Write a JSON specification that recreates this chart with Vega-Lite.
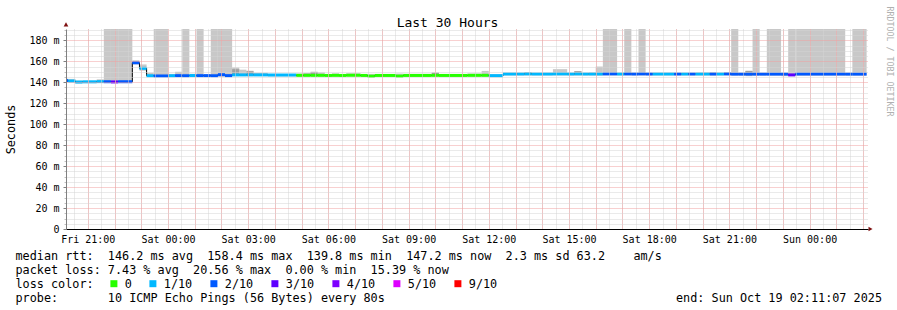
{
  "$schema": "https://vega.github.io/schema/vega-lite/v6.json",
  "background": "white",
  "autosize": {"type": "fit", "contains": "padding"},
  "padding": {"left": 5, "top": 5, "right": 4, "bottom": 6},
  "config": {"font": "DejaVu Sans Mono", "view": {"stroke": null}},
  "width": 897,
  "height": 310,
  "data": {"values": [
    {"t0":"2025-10-17T20:00:00Z","t1":"2025-10-17T20:16:00Z","med":141.6,"loss":"2/10","lo":140.3,"hi":143.4},
    {"t0":"2025-10-17T20:16:00Z","t1":"2025-10-17T20:32:00Z","med":141.2,"loss":"1/10","lo":140.3,"hi":143.2},
    {"t0":"2025-10-17T20:32:00Z","t1":"2025-10-17T20:48:00Z","med":140.2,"loss":"1/10","lo":139.0,"hi":141.5},
    {"t0":"2025-10-17T20:48:00Z","t1":"2025-10-17T21:20:00Z","med":140.4,"loss":"1/10","lo":139.3,"hi":141.3},
    {"t0":"2025-10-17T21:20:00Z","t1":"2025-10-17T21:36:00Z","med":140.6,"loss":"1/10","lo":139.8,"hi":142.8},
    {"t0":"2025-10-17T21:36:00Z","t1":"2025-10-17T21:52:00Z","med":140.5,"loss":"2/10","lo":139.8,"hi":200},
    {"t0":"2025-10-17T21:52:00Z","t1":"2025-10-17T22:08:00Z","med":140.3,"loss":"3/10","lo":139.5,"hi":200},
    {"t0":"2025-10-17T22:08:00Z","t1":"2025-10-17T22:40:00Z","med":140.5,"loss":"2/10","lo":139.8,"hi":200},
    {"t0":"2025-10-17T22:40:00Z","t1":"2025-10-17T22:56:00Z","med":158.6,"loss":"2/10","lo":157.0,"hi":161.0},
    {"t0":"2025-10-17T22:56:00Z","t1":"2025-10-17T23:12:00Z","med":153.3,"loss":"1/10","lo":151.0,"hi":157.0},
    {"t0":"2025-10-17T23:12:00Z","t1":"2025-10-17T23:28:00Z","med":146.2,"loss":"1/10","lo":145.0,"hi":149.0},
    {"t0":"2025-10-17T23:28:00Z","t1":"2025-10-18T00:00:00Z","med":146.0,"loss":"2/10","lo":145.0,"hi":200},
    {"t0":"2025-10-18T00:00:00Z","t1":"2025-10-18T00:16:00Z","med":146.2,"loss":"1/10","lo":145.3,"hi":148.0},
    {"t0":"2025-10-18T00:16:00Z","t1":"2025-10-18T00:32:00Z","med":146.3,"loss":"2/10","lo":145.5,"hi":150.0},
    {"t0":"2025-10-18T00:32:00Z","t1":"2025-10-18T00:48:00Z","med":146.2,"loss":"2/10","lo":145.3,"hi":200},
    {"t0":"2025-10-18T00:48:00Z","t1":"2025-10-18T01:04:00Z","med":146.4,"loss":"1/10","lo":145.5,"hi":148.0},
    {"t0":"2025-10-18T01:04:00Z","t1":"2025-10-18T01:20:00Z","med":146.3,"loss":"2/10","lo":145.5,"hi":200},
    {"t0":"2025-10-18T01:20:00Z","t1":"2025-10-18T01:36:00Z","med":146.3,"loss":"2/10","lo":145.5,"hi":147.8},
    {"t0":"2025-10-18T01:36:00Z","t1":"2025-10-18T01:52:00Z","med":146.2,"loss":"2/10","lo":145.3,"hi":200},
    {"t0":"2025-10-18T01:52:00Z","t1":"2025-10-18T02:08:00Z","med":147.2,"loss":"2/10","lo":145.3,"hi":200},
    {"t0":"2025-10-18T02:08:00Z","t1":"2025-10-18T02:24:00Z","med":146.3,"loss":"2/10","lo":145.3,"hi":200},
    {"t0":"2025-10-18T02:24:00Z","t1":"2025-10-18T02:40:00Z","med":147.0,"loss":"1/10","lo":146.0,"hi":154.0,"clo":146.5,"chi":152.5},
    {"t0":"2025-10-18T02:40:00Z","t1":"2025-10-18T02:56:00Z","med":147.0,"loss":"1/10","lo":146.0,"hi":152.0},
    {"t0":"2025-10-18T02:56:00Z","t1":"2025-10-18T03:12:00Z","med":147.0,"loss":"1/10","lo":146.0,"hi":151.0,"clo":146.5,"chi":150.5},
    {"t0":"2025-10-18T03:12:00Z","t1":"2025-10-18T03:44:00Z","med":147.0,"loss":"1/10","lo":146.0,"hi":149.0},
    {"t0":"2025-10-18T03:44:00Z","t1":"2025-10-18T04:48:00Z","med":146.9,"loss":"1/10","lo":145.8,"hi":147.8},
    {"t0":"2025-10-18T04:48:00Z","t1":"2025-10-18T05:04:00Z","med":146.6,"loss":"0","lo":145.5,"hi":148.3},
    {"t0":"2025-10-18T05:04:00Z","t1":"2025-10-18T05:20:00Z","med":146.6,"loss":"0","lo":145.5,"hi":148.5,"clo":146.0,"chi":148.3},
    {"t0":"2025-10-18T05:20:00Z","t1":"2025-10-18T05:36:00Z","med":146.6,"loss":"0","lo":145.5,"hi":150.1,"clo":146.0,"chi":149.5},
    {"t0":"2025-10-18T05:36:00Z","t1":"2025-10-18T05:52:00Z","med":146.6,"loss":"0","lo":145.5,"hi":149.3},
    {"t0":"2025-10-18T05:52:00Z","t1":"2025-10-18T06:08:00Z","med":146.5,"loss":"0","lo":145.5,"hi":147.8},
    {"t0":"2025-10-18T06:08:00Z","t1":"2025-10-18T06:24:00Z","med":146.6,"loss":"0","lo":145.5,"hi":148.5},
    {"t0":"2025-10-18T06:24:00Z","t1":"2025-10-18T06:40:00Z","med":146.5,"loss":"0","lo":145.3,"hi":147.8},
    {"t0":"2025-10-18T06:40:00Z","t1":"2025-10-18T07:12:00Z","med":146.7,"loss":"0","lo":145.5,"hi":148.5},
    {"t0":"2025-10-18T07:12:00Z","t1":"2025-10-18T07:28:00Z","med":146.5,"loss":"0","lo":145.3,"hi":147.8},
    {"t0":"2025-10-18T07:28:00Z","t1":"2025-10-18T07:44:00Z","med":145.8,"loss":"0","lo":145.0,"hi":148.0},
    {"t0":"2025-10-18T07:44:00Z","t1":"2025-10-18T08:32:00Z","med":146.5,"loss":"0","lo":145.5,"hi":147.8},
    {"t0":"2025-10-18T08:32:00Z","t1":"2025-10-18T08:48:00Z","med":145.9,"loss":"0","lo":145.0,"hi":148.3},
    {"t0":"2025-10-18T08:48:00Z","t1":"2025-10-18T09:52:00Z","med":146.5,"loss":"0","lo":145.5,"hi":148.0},
    {"t0":"2025-10-18T09:52:00Z","t1":"2025-10-18T10:08:00Z","med":146.6,"loss":"0","lo":145.5,"hi":149.3,"clo":146.0,"chi":149.0},
    {"t0":"2025-10-18T10:08:00Z","t1":"2025-10-18T11:12:00Z","med":146.5,"loss":"0","lo":145.5,"hi":147.8},
    {"t0":"2025-10-18T11:12:00Z","t1":"2025-10-18T11:44:00Z","med":146.6,"loss":"0","lo":145.5,"hi":148.3},
    {"t0":"2025-10-18T11:44:00Z","t1":"2025-10-18T12:00:00Z","med":146.6,"loss":"0","lo":145.5,"hi":150.8},
    {"t0":"2025-10-18T12:00:00Z","t1":"2025-10-18T12:32:00Z","med":146.3,"loss":"1/10","lo":144.8,"hi":147.5},
    {"t0":"2025-10-18T12:32:00Z","t1":"2025-10-18T13:04:00Z","med":147.9,"loss":"1/10","lo":146.5,"hi":149.0},
    {"t0":"2025-10-18T13:04:00Z","t1":"2025-10-18T13:20:00Z","med":147.9,"loss":"1/10","lo":146.5,"hi":148.8},
    {"t0":"2025-10-18T13:20:00Z","t1":"2025-10-18T13:36:00Z","med":148.0,"loss":"1/10","lo":146.5,"hi":149.5,"clo":147.0,"chi":149.5},
    {"t0":"2025-10-18T13:36:00Z","t1":"2025-10-18T14:24:00Z","med":147.9,"loss":"1/10","lo":146.5,"hi":148.8},
    {"t0":"2025-10-18T14:24:00Z","t1":"2025-10-18T14:56:00Z","med":148.0,"loss":"1/10","lo":146.5,"hi":152.5},
    {"t0":"2025-10-18T14:56:00Z","t1":"2025-10-18T15:12:00Z","med":147.9,"loss":"1/10","lo":146.5,"hi":148.8},
    {"t0":"2025-10-18T15:12:00Z","t1":"2025-10-18T15:28:00Z","med":148.0,"loss":"1/10","lo":146.5,"hi":150.8,"clo":147.0,"chi":150.5},
    {"t0":"2025-10-18T15:28:00Z","t1":"2025-10-18T15:44:00Z","med":147.9,"loss":"1/10","lo":146.5,"hi":148.8},
    {"t0":"2025-10-18T15:44:00Z","t1":"2025-10-18T16:00:00Z","med":147.9,"loss":"1/10","lo":146.5,"hi":149.3},
    {"t0":"2025-10-18T16:00:00Z","t1":"2025-10-18T16:16:00Z","med":147.9,"loss":"1/10","lo":146.3,"hi":155.0},
    {"t0":"2025-10-18T16:16:00Z","t1":"2025-10-18T16:48:00Z","med":148.0,"loss":"2/10","lo":146.5,"hi":200},
    {"t0":"2025-10-18T16:48:00Z","t1":"2025-10-18T17:04:00Z","med":147.9,"loss":"1/10","lo":146.5,"hi":148.8},
    {"t0":"2025-10-18T17:04:00Z","t1":"2025-10-18T17:20:00Z","med":148.0,"loss":"2/10","lo":146.5,"hi":200},
    {"t0":"2025-10-18T17:20:00Z","t1":"2025-10-18T17:36:00Z","med":147.9,"loss":"2/10","lo":146.5,"hi":148.5},
    {"t0":"2025-10-18T17:36:00Z","t1":"2025-10-18T17:52:00Z","med":148.0,"loss":"2/10","lo":146.5,"hi":200},
    {"t0":"2025-10-18T17:52:00Z","t1":"2025-10-18T18:08:00Z","med":147.9,"loss":"2/10","lo":146.5,"hi":148.5},
    {"t0":"2025-10-18T18:08:00Z","t1":"2025-10-18T18:56:00Z","med":147.9,"loss":"1/10","lo":146.5,"hi":149.0},
    {"t0":"2025-10-18T18:56:00Z","t1":"2025-10-18T19:12:00Z","med":147.9,"loss":"2/10","lo":146.5,"hi":148.8},
    {"t0":"2025-10-18T19:12:00Z","t1":"2025-10-18T19:28:00Z","med":147.9,"loss":"1/10","lo":146.5,"hi":148.8},
    {"t0":"2025-10-18T19:28:00Z","t1":"2025-10-18T19:44:00Z","med":147.9,"loss":"2/10","lo":146.5,"hi":148.8},
    {"t0":"2025-10-18T19:44:00Z","t1":"2025-10-18T20:16:00Z","med":147.9,"loss":"1/10","lo":146.5,"hi":149.3},
    {"t0":"2025-10-18T20:16:00Z","t1":"2025-10-18T20:32:00Z","med":147.9,"loss":"2/10","lo":146.3,"hi":149.3,"clo":147.0,"chi":149.3},
    {"t0":"2025-10-18T20:32:00Z","t1":"2025-10-18T20:48:00Z","med":147.9,"loss":"1/10","lo":146.5,"hi":149.0},
    {"t0":"2025-10-18T20:48:00Z","t1":"2025-10-18T21:04:00Z","med":148.0,"loss":"2/10","lo":146.5,"hi":149.5,"clo":147.0,"chi":149.5},
    {"t0":"2025-10-18T21:04:00Z","t1":"2025-10-18T21:20:00Z","med":147.8,"loss":"2/10","lo":146.3,"hi":200},
    {"t0":"2025-10-18T21:20:00Z","t1":"2025-10-18T21:36:00Z","med":147.8,"loss":"2/10","lo":146.3,"hi":149.0},
    {"t0":"2025-10-18T21:36:00Z","t1":"2025-10-18T21:52:00Z","med":147.8,"loss":"2/10","lo":145.8,"hi":151.0,"clo":146.5,"chi":150.8},
    {"t0":"2025-10-18T21:52:00Z","t1":"2025-10-18T22:08:00Z","med":147.8,"loss":"2/10","lo":146.3,"hi":200},
    {"t0":"2025-10-18T22:08:00Z","t1":"2025-10-18T22:24:00Z","med":147.8,"loss":"2/10","lo":146.3,"hi":148.8},
    {"t0":"2025-10-18T22:24:00Z","t1":"2025-10-18T22:56:00Z","med":147.8,"loss":"2/10","lo":146.3,"hi":200},
    {"t0":"2025-10-18T22:56:00Z","t1":"2025-10-18T23:12:00Z","med":147.8,"loss":"2/10","lo":145.8,"hi":148.5},
    {"t0":"2025-10-18T23:12:00Z","t1":"2025-10-18T23:28:00Z","med":147.0,"loss":"3/10","lo":146.0,"hi":200},
    {"t0":"2025-10-18T23:28:00Z","t1":"2025-10-19T01:20:00Z","med":147.8,"loss":"2/10","lo":146.3,"hi":200},
    {"t0":"2025-10-19T01:20:00Z","t1":"2025-10-19T01:36:00Z","med":147.8,"loss":"2/10","lo":146.3,"hi":148.5},
    {"t0":"2025-10-19T01:36:00Z","t1":"2025-10-19T02:08:00Z","med":147.8,"loss":"2/10","lo":146.3,"hi":200}
  ]},
  "resolve": {"axis": {"x": "independent", "y": "independent"}},
  "layer": [
    {
      "mark": {"type": "rect", "color": "#c8c8c8", "clip": true},
      "encoding": {
        "x": {"field": "t0", "type": "temporal",
          "scale": {"type": "utc", "domain": [1760731867000, 1760839867000]},
          "axis": {"orient": "bottom", "title": null, "tickCount": 60, "grid": true, "gridColor": "#d4d4d4", "gridDash": [1, 1],
            "ticks": false, "labels": false, "domain": false, "zindex": 1}
        },
        "x2": {"field": "t1"},
        "y": {"field": "lo", "type": "quantitative",
          "scale": {"domain": [0, 190.8], "nice": false},
          "axis": {"orient": "left", "title": null, "values": [5,10,15,25,30,35,45,50,55,65,70,75,85,90,95,105,110,115,125,130,135,145,150,155,165,170,175,185,190],
            "grid": true, "gridColor": "#d4d4d4", "gridDash": [1, 1], "ticks": true, "tickSize": 2, "tickColor": "#c0c0c0", "labels": false, "domain": false, "zindex": 1}
        },
        "y2": {"field": "hi"}
      }
    },
    {
      "transform": [{"filter": "isValid(datum.chi)"}],
      "mark": {"type": "rect", "color": "#a0a0a0", "clip": true},
      "encoding": {
        "x": {"field": "t0", "type": "temporal",
          "axis": {"orient": "bottom", "title": null, "tickCount": 30, "grid": true, "gridColor": "#f0a0a0", "gridDash": [1, 1],
            "ticks": false, "labels": false, "domain": false, "zindex": 1}
        },
        "x2": {"field": "t1"},
        "y": {"field": "clo", "type": "quantitative",
          "axis": {"orient": "left", "values": [0,20,40,60,80,100,120,140,160,180],
            "grid": true, "gridColor": "#f0a0a0", "gridDash": [1, 1],
            "ticks": true, "tickSize": 3, "tickColor": "#808080",
            "domain": true, "domainColor": "#808080",
            "labelExpr": "datum.value == 0 ? '0' : datum.label + ' m'",
            "labelFont": "DejaVu Sans Mono", "labelFontSize": 10, "labelColor": "black", "labelPadding": 4,
            "title": "Seconds", "titleFont": "DejaVu Sans Mono", "titleFontSize": 11.8, "titleFontWeight": "normal", "titleColor": "black",
            "titleX": -51.8, "titleY": 100, "titleBaseline": "alphabetic", "titleAlign": "center", "titleAngle": -90,
            "zindex": 1}
        },
        "y2": {"field": "chi"}
      }
    },
    {
      "mark": {"type": "line", "interpolate": "step-after", "color": "black", "strokeWidth": 1, "clip": true},
      "encoding": {
        "x": {"field": "t0", "type": "temporal",
          "axis": {"orient": "bottom", "tickCount": 10, "format": "%a %H:%M", "grid": false, "ticks": false,
            "domain": true, "domainColor": "black",
            "labelFont": "DejaVu Sans Mono", "labelFontSize": 10, "labelColor": "black",
            "labelPadding": 13, "labelBaseline": "alphabetic", "labelFlush": false,
            "title": ["median rtt:\u00a0\u00a0146.2 ms avg\u00a0\u00a0158.4 ms max\u00a0\u00a0139.8 ms min\u00a0\u00a0147.2 ms now\u00a0\u00a02.3 ms sd\u00a063.2\u00a0\u00a0\u00a0\u00a0am/s", "packet loss:\u00a07.43 % avg\u00a0\u00a020.56 % max\u00a0\u00a00.00 % min\u00a0\u00a015.39 % now", "loss color:", "probe:\u00a0\u00a0\u00a0\u00a0\u00a0\u00a0\u00a010 ICMP Echo Pings (56 Bytes) every 80s\u00a0\u00a0\u00a0\u00a0\u00a0\u00a0\u00a0\u00a0\u00a0\u00a0\u00a0\u00a0\u00a0\u00a0\u00a0\u00a0\u00a0\u00a0\u00a0\u00a0\u00a0\u00a0\u00a0\u00a0\u00a0\u00a0\u00a0\u00a0\u00a0\u00a0\u00a0\u00a0\u00a0\u00a0\u00a0\u00a0\u00a0\u00a0\u00a0\u00a0\u00a0end: Sun Oct 19 02:11:07 2025"],
            "titleFont": "DejaVu Sans Mono", "titleFontSize": 11.8, "titleFontWeight": "normal", "titleColor": "black",
            "titleX": -51, "titleY": 30, "titleAlign": "left", "titleBaseline": "alphabetic", "titleLineHeight": 14, "titleAngle": 0,
            "zindex": 1}
        },
        "y": {"field": "med", "type": "quantitative", "axis": null}
      }
    },
    {
      "mark": {"type": "rule", "strokeWidth": 3, "clip": true},
      "encoding": {
        "x": {"field": "t0", "type": "temporal", "axis": null},
        "x2": {"field": "t1"},
        "y": {"field": "med", "type": "quantitative", "axis": null},
        "color": {"field": "loss", "type": "nominal",
          "scale": {"domain": ["0", "1/10", "2/10", "3/10", "4/10", "5/10", "9/10"], "range": ["#26ff00", "#00b8ff", "#0059ff", "#5e00ff", "#7e00ff", "#dd00ff", "#ff0000"]},
          "legend": {
            "title": null, "orient": "none", "legendX": 42, "legendY": 248.5, "direction": "horizontal",
            "labelFont": "DejaVu Sans Mono", "labelFontSize": 11.8, "labelColor": "black", "labelOffset": 5,
            "symbolType": "square", "symbolSize": 9, "symbolStrokeWidth": 4,
            "columnPadding": 11, "padding": 0
          }
        }
      }
    },
    {
      "data": {"values": [
        {"t": "2025-10-17T20:11:07Z", "v": 195.2, "dir": "up"},
        {"t": "2025-10-19T02:16:45Z", "v": 0, "dir": "right"}
      ]},
      "mark": {"type": "point", "filled": true, "size": 22, "color": "#7f1010", "opacity": 1},
      "encoding": {
        "x": {"field": "t", "type": "temporal",
          "axis": {"orient": "top", "labels": false, "ticks": false, "domain": false, "grid": false,
            "title": "Last 30 Hours", "titleFont": "DejaVu Sans Mono", "titleFontSize": 13, "titleFontWeight": "normal", "titleColor": "black",
            "titleX": 381, "titleY": -3, "titleBaseline": "alphabetic", "titleAlign": "center", "titleAngle": 0}
        },
        "y": {"field": "v", "type": "quantitative",
          "axis": {"orient": "right", "labels": false, "ticks": false, "domain": false, "grid": false,
            "title": "RRDTOOL / TOBI OETIKER", "titleFont": "DejaVu Sans Mono", "titleFontSize": 8.3, "titleFontWeight": "normal", "titleColor": "#b0b0b0",
            "titleX": 18, "titleY": -23, "titleBaseline": "alphabetic", "titleAlign": "left", "titleAngle": 90}
        },
        "shape": {"field": "dir", "type": "nominal", "scale": {"domain": ["up", "right"], "range": ["triangle-up", "triangle-right"]}, "legend": null}
      }
    }
  ]
}
